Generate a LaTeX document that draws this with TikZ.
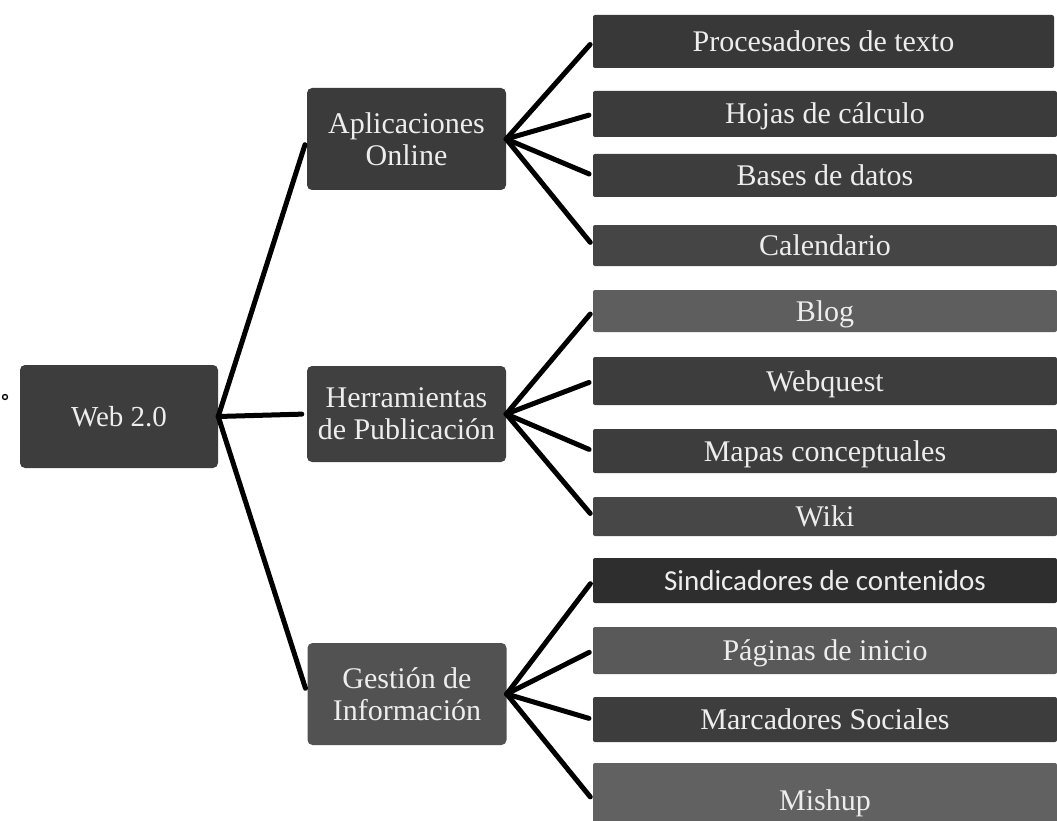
\documentclass[tikz,border=0pt]{standalone}
\usepackage{fontspec}
\setmainfont{Liberation Serif}
\newfontfamily\carlitofont{Carlito}
\begin{document}
\begin{tikzpicture}[x=1pt,y=-1pt,
  box/.style={draw=none, fill=#1, text=white!93!black, rounded corners=5pt,
    inner sep=0pt, align=center, font=\fontsize{30}{32}\selectfont},
  midbox/.style={box=#1, minimum width=199pt},
  leaf/.style={box=#1, rounded corners=2pt, minimum width=464pt,
    text height=21pt, text depth=1pt},
  link/.style={line width=5pt, line cap=round, draw=black},
]
\useasboundingbox (0,0) rectangle (1057,821);

% scan dot
\draw[line width=1.3pt] (5,397) circle (2.5pt);

% root
\node[box=black!76, minimum width=198pt, minimum height=103pt,
  font=\fontsize{29}{32}\selectfont] (web) at (119,416.5) {Web 2.0};

% middle level
\node[midbox=black!77, minimum height=102pt] (apl) at (406.5,139) {Aplicaciones\\Online};
\node[midbox=black!75, minimum height=96pt] (her) at (406.5,414) {Herramientas\\de Publicación};
\node[midbox=black!68, minimum height=102pt] (ges) at (407,694) {Gestión de\\Información};

% leaves
\node[leaf=black!78, minimum width=461pt, minimum height=53pt] (proc) at (823.5,41.5) {Procesadores de texto};
\node[leaf=black!77, minimum height=46pt] (hoj) at (825,114) {Hojas de cálculo};
\node[leaf=black!76, minimum height=43pt] (bas) at (825,175.5) {Bases de datos};
\node[leaf=black!73, minimum height=41pt] (cal) at (825,245.5) {Calendario};

\node[leaf=black!63, minimum height=42pt] (blog) at (825,311) {Blog};
\node[leaf=black!76, minimum height=48pt] (webq) at (825,381) {Webquest};
\node[leaf=black!76, minimum height=44pt] (map) at (825,451) {Mapas conceptuales};
\node[leaf=black!72, minimum height=39pt] (wiki) at (825,516.5) {Wiki};

\node[leaf=black!82, minimum height=45pt, font=\carlitofont\fontsize{29}{32}\selectfont] (sin) at (825,580.5) {Sindicadores de contenidos};
\node[leaf=black!65, minimum height=47pt] (pag) at (825,650.5) {Páginas de inicio};
\node[leaf=black!76, minimum height=45pt] (mar) at (825,719.5) {Marcadores Sociales};
\node[leaf=black!62, minimum height=74pt] (mis) at (825,800) {Mishup};

% connectors from root
\draw[link, shorten >=6pt] (web.east) -- (apl.west);
\draw[link, shorten >=5pt] (web.east) -- (her.west);
\draw[link, shorten >=6pt] (web.east) -- (ges.west);

% fans
\foreach \t in {proc,hoj,bas,cal}
  \draw[link, shorten >=4pt] (apl.east) -- (\t.west);
\foreach \t in {blog,webq,map,wiki}
  \draw[link, shorten >=4pt] (her.east) -- (\t.west);
\foreach \t in {sin,pag,mar,mis}
  \draw[link, shorten >=4pt] (ges.east) -- (\t.west);
\end{tikzpicture}
\end{document}
